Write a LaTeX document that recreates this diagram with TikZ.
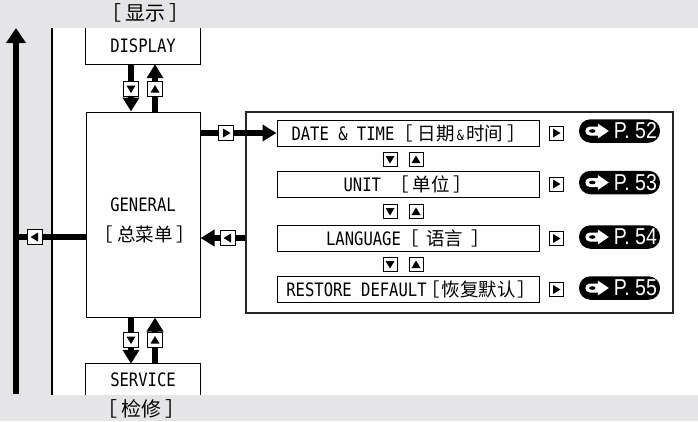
\documentclass[tikz,border=0pt]{standalone}
\usepackage{fontspec}
\newfontfamily\lat{DejaVu Sans Mono}[FakeStretch=0.84]
\newfontfamily\cjk{Noto Sans CJK SC}
\newfontfamily\pagefont{Liberation Sans}[FakeStretch=0.85]
\usetikzlibrary{arrows.meta}
\definecolor{bggray}{RGB}{229,229,231}
\newcommand{\lb}[1][4pt]{{\cjk ［}\hspace{#1}}
\newcommand{\rb}[1][4pt]{\hspace{#1}{\cjk ］}}
\newcommand{\cjkm}{\cjk\fontsize{18.5}{20}\selectfont}
\newcommand{\pgarrow}[1]{%
  \fill[white] ([shift={(11pt,-4.5pt)}]#1.west) arc[start angle=270,end angle=90,radius=4.5pt]
     -- ++(8pt,0) -- ++(0,3pt) -- ++(11pt,-7.5pt) -- ++(-11pt,-7.5pt) -- ++(0,3pt) -- cycle;
  \fill[black] ([shift={(13.5pt,0)}]#1.west) ellipse (3.2pt and 1.8pt);}
\begin{document}
\begin{tikzpicture}[x=1pt,y=-1pt,
 every node/.style={inner sep=0pt, font=\lat\fontsize{18.5}{20}\selectfont},
 cjktext/.style={font=\cjk\fontsize{20}{22}\selectfont},
 menubox/.style={draw, line width=1pt, fill=white, minimum width=262pt, minimum height=26pt},
 thk/.style={line width=6pt, -{Triangle[length=14pt,width=16pt]}},
 keybox/.style={draw, line width=1pt, fill=white, minimum size=14pt},
 kR/.style={keybox, path picture={\fill[black] ([shift={(-3pt,-4.5pt)}]path picture bounding box.center) -- ++(0,9pt) -- ++(7.5pt,-4.5pt) -- cycle;}},
 kL/.style={keybox, path picture={\fill[black] ([shift={(3pt,-4.5pt)}]path picture bounding box.center) -- ++(0,9pt) -- ++(-7.5pt,-4.5pt) -- cycle;}},
 kD/.style={keybox, path picture={\fill[black] ([shift={(-4.5pt,3.5pt)}]path picture bounding box.center) -- ++(9pt,0) -- ++(-4.5pt,-7.5pt) -- cycle;}},
 kU/.style={keybox, path picture={\fill[black] ([shift={(-4.5pt,-3.5pt)}]path picture bounding box.center) -- ++(9pt,0) -- ++(-4.5pt,7.5pt) -- cycle;}},
 pill/.style={fill=black, rounded corners=11.5pt, minimum width=81pt, minimum height=23.5pt},
 pagetxt/.style={font=\pagefont\fontsize{23}{24}\selectfont, text=white, anchor=east}
]
\useasboundingbox (0,0) rectangle (698,421);
% background
\fill[bggray] (0,0) rectangle (698,421);
\fill[white] (52,28) rectangle (698,395);
\draw[line width=1.5pt] (52,28) -- (52,395);

% main boxes
\node[minimum width=114pt, minimum height=36pt] (display) at (143,46) {DISPLAY};
\draw[line width=1pt] (display.north west) |- (display.south east) -- (display.north east);
\node[cjktext] (displaycn) at (145,13) {\lb 显示\rb};

\node[draw, line width=1pt, fill=white, minimum width=114pt, minimum height=205pt] (general) at (143,214.5) {};
\node (gen1) at (143,205) {GENERAL};
\node[font=\cjk\fontsize{18.5}{20}\selectfont] (gen2) at (145,234.5) {\lb 总菜单\rb};

\node[minimum width=114pt, minimum height=31pt] (service) at (143,379.5) {SERVICE};
\draw[line width=1pt] (service.south west) |- (service.north east) -- (service.south east);
\node[cjktext] (servicecn) at (141,409) {\lb 检修\rb};

% submenu frame
\node[draw=black!85, line width=1.5pt, minimum width=427pt, minimum height=201pt] (big) at (459.5,212.5) {};

\node[menubox] (date) at (408,133) {\hspace{2pt}DATE \& TIME{\cjkm\lb[5pt]日期\hspace{2pt}{\lat\fontsize{14}{16}\selectfont\&}\hspace{2pt}时间\rb[5pt]}};
\node[menubox] (unit) at (408,184) {UNIT {\cjkm\lb 单位\rb}};
\node[menubox] (lang) at (408,238.5) {LANGUAGE{\cjkm\lb[7pt]语言\rb[8pt]}};
\node[menubox] (rest) at (408,289.5) {\hspace{6pt}RESTORE DEFAULT{\cjkm\hspace{-5pt}\lb[1.5pt]恢复默认\rb[1.5pt]}};

% key positions
\coordinate (kd1) at (131,89);
\coordinate (ku1) at (155,89);
\coordinate (kd2) at (131,340);
\coordinate (ku2) at (155,340);
\coordinate (kr) at (226,133);
\coordinate (kret) at (228,238);
\coordinate (kl) at (35,237);
\coordinate (vb) at (16,394);
\coordinate (vt) at (16,28);

% connectors
\draw[thk] (kd1 |- display.south) -- (kd1 |- general.north);
\draw[thk] (ku1 |- general.north) -- (ku1 |- display.south);
\draw[thk] (kd2 |- general.south) -- (kd2 |- service.north);
\draw[thk] (ku2 |- service.north) -- (ku2 |- general.south);
\draw[thk] (general.east |- date) -- (date.west);
\draw[thk] (big.west |- kret) -- (general.east |- kret);
\draw[line width=6pt] (general.west |- kl) -- (vb |- kl);
\draw[line width=6pt, -{Triangle[length=15pt,width=19pt]}] (vb) -- (vt);

% key boxes on connectors
\node[kD, minimum size=15pt] (kd1n) at (kd1) {};
\node[kU, minimum size=15pt] (ku1n) at (ku1) {};
\node[kD, minimum size=15pt] (kd2n) at (kd2) {};
\node[kU, minimum size=15pt] (ku2n) at (ku2) {};
\node[kR, minimum size=15pt] (krn) at (kr) {};
\node[kL, minimum size=15pt] (kretn) at (kret) {};
\node[kL, minimum size=15pt] (kln) at (kl) {};

% up/down keys between menu items
\node[kD, minimum size=14pt] (d1) at (390,159.5) {};
\node[kU, minimum size=14pt] (u1) at (416,159.5) {};
\node[kD, minimum size=14pt] (d2) at (390,211.5) {};
\node[kU, minimum size=14pt] (u2) at (416,211.5) {};
\node[kD, minimum size=14pt] (d3) at (390,264.5) {};
\node[kU, minimum size=14pt] (u3) at (416,264.5) {};

% right keys and page references
\node[kR, minimum size=14pt] (r1) at (556,133) {};
\node[kR, minimum size=14pt] (r2) at (556,184) {};
\node[kR, minimum size=14pt] (r3) at (556,238.5) {};
\node[kR, minimum size=14pt] (r4) at (556,289.5) {};

\node[pill] (p1) at (619.5,131) {};
\node[pill] (p2) at (619.5,182.5) {};
\node[pill] (p3) at (619.5,237) {};
\node[pill] (p4) at (619.5,288) {};
\pgarrow{p1}\pgarrow{p2}\pgarrow{p3}\pgarrow{p4}
\node[pagetxt] (t1) at ([xshift=-3pt]p1.east) {P. 52};
\node[pagetxt] (t2) at ([xshift=-3pt]p2.east) {P. 53};
\node[pagetxt] (t3) at ([xshift=-3pt]p3.east) {P. 54};
\node[pagetxt] (t4) at ([xshift=-3pt]p4.east) {P. 55};
\end{tikzpicture}
\end{document}
